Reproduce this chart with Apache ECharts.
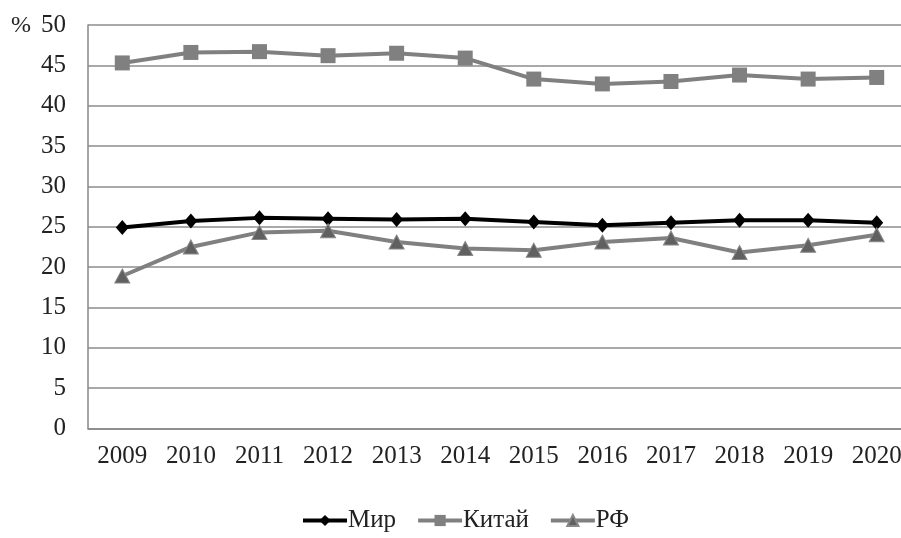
<!DOCTYPE html>
<html>
<head>
<meta charset="utf-8">
<script src="https://cdn.jsdelivr.net/npm/echarts@6/dist/echarts.min.js"></script>
<style>html,body{margin:0;padding:0;background:#fff;overflow:hidden}#c{width:901px;height:538px}</style>
</head>
<body>
<div id="c"></div>
<script>
const years = ['2009','2010','2011','2012','2013','2014','2015','2016','2017','2018','2019','2020'];
const mir = [24.9, 25.7, 26.1, 26.0, 25.9, 26.0, 25.6, 25.2, 25.5, 25.8, 25.8, 25.5];
const china = [45.3, 46.6, 46.7, 46.2, 46.5, 45.9, 43.3, 42.7, 43.0, 43.8, 43.3, 43.5];
const rf = [18.9, 22.5, 24.3, 24.5, 23.1, 22.3, 22.1, 23.1, 23.6, 21.8, 22.7, 24.0];
const yTicks = [0, 50, 5];

const font = '"Liberation Serif", "Times New Roman", serif';
const chart = echarts.init(document.getElementById('c'));
chart.setOption({
  animation: false,
  textStyle: { fontFamily: font },
  grid: { left: 88, top: 25, right: -10, height: 403.5, containLabel: false, outerBoundsMode: 'none' },
  graphic: [{ type: 'text', left: 11, top: 14, style: { text: '%', font: '24px ' + font, fill: '#222' } }],
  legend: {
    bottom: 0, left: 296,
    itemWidth: 44, itemHeight: 14, itemGap: 20,
    lineStyle: { width: 4 },
    textStyle: { fontSize: 25, color: '#222', fontFamily: font, padding: [0, 0, 0, -4] },
    data: ['Мир', 'Китай', 'РФ']
  },
  xAxis: {
    type: 'category', data: years, boundaryGap: true,
    axisLine: { lineStyle: { color: '#878787', width: 1.5 } },
    axisTick: { show: false },
    axisLabel: { color: '#222', fontSize: 25, margin: 15, fontFamily: font, interval: 0 }
  },
  yAxis: {
    type: 'value', min: yTicks[0], max: yTicks[1], interval: yTicks[2],
    axisLine: { show: true, lineStyle: { color: '#878787', width: 1.5 } },
    axisTick: { show: false },
    splitLine: { lineStyle: { color: '#8c8c8c', width: 1.5 } },
    axisLabel: { color: '#222', fontSize: 25, margin: 22, fontFamily: font }
  },
  series: [
    { name: 'Мир', type: 'line', data: mir, symbol: 'diamond', symbolSize: [13, 15],
      lineStyle: { color: '#000', width: 4 }, itemStyle: { color: '#000' } },
    { name: 'Китай', type: 'line', data: china, symbol: 'rect', symbolSize: 15,
      lineStyle: { color: '#808080', width: 4 }, itemStyle: { color: '#808080' } },
    { name: 'РФ', type: 'line', data: rf, symbol: 'triangle', symbolSize: [15, 14],
      lineStyle: { color: '#808080', width: 4 }, itemStyle: { color: '#606060', borderColor: '#888', borderWidth: 1 } }
  ]
});
</script>
</body>
</html>
